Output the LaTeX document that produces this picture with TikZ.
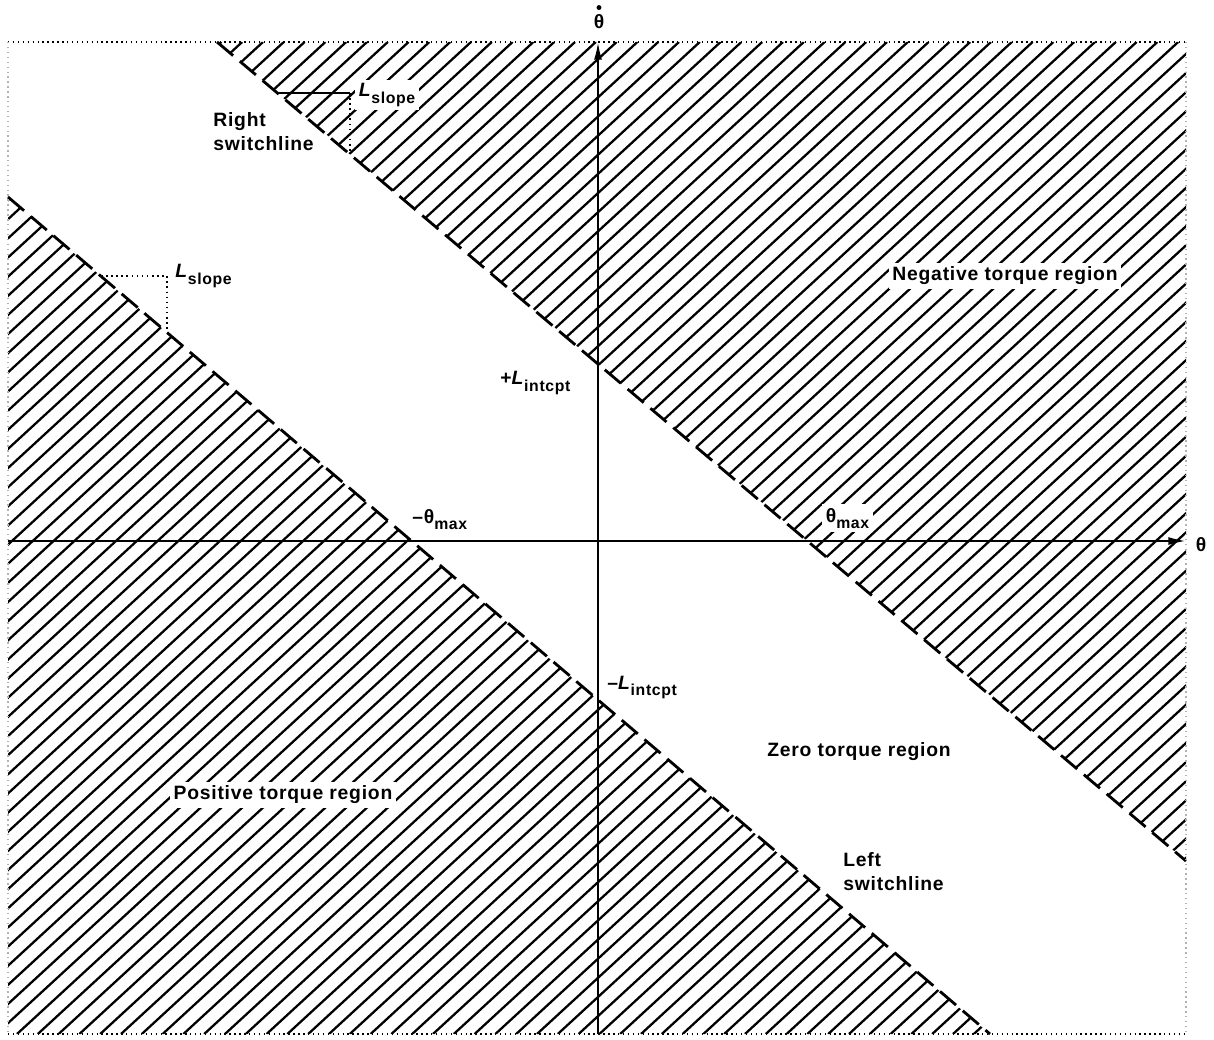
\documentclass[tikz,border=0pt]{standalone}
\usepackage{fontspec}
\setmainfont{Liberation Sans}[LetterSpace=4]
\usetikzlibrary{arrows.meta,calc}
\newcommand\lowsub[1]{\raisebox{-3.6pt}{\fontsize{9}{10}\selectfont #1}}

\begin{document}
\begin{tikzpicture}[x=0.02cm,y=-0.02cm,
    hatch/.style={line width=1.3pt},
    switchline/.style={line width=1.6pt, dash pattern=on 12pt off 5pt},
    axisline/.style={line width=1.2pt, -{Latex[length=10pt,width=4.5pt]}},
    frameline/.style={dotted, line width=0.8pt},
    lbl/.style={font=\fontsize{11}{13.5}\selectfont\bfseries, inner sep=0pt},
    onhatch/.style={fill=white, inner sep=2pt}]
    \useasboundingbox (0,0) rectangle (1214,1040);

    % Frame and switchline ends
    \coordinate (fTL) at (8,42);
    \coordinate (fTR) at (1186,42);
    \coordinate (fBL) at (8,1034);
    \coordinate (fBR) at (1186,1034);
    \coordinate (rsTop) at (217,42);
    \coordinate (rsEnd) at (1186,861);
    \coordinate (lsTop) at (8,197);
    \coordinate (lsEnd) at (990,1034);

    % Hatched regions
    \begin{scope}
        \clip (rsTop) -- (fTR) -- (rsEnd) -- cycle;
        \foreach \k in {-52,...,56}
            \draw[hatch] ({17+20.8*\k},1034) -- ++(1078,-992);
    \end{scope}
    \begin{scope}
        \clip (lsTop) -- (lsEnd) -- (fBL) -- cycle;
        \foreach \k in {-52,...,56}
            \draw[hatch] ({17+20.8*\k},1034) -- ++(1078,-992);
    \end{scope}

    % Switchlines
    \draw[switchline] (rsTop) -- (rsEnd);
    \draw[switchline] (lsTop) -- (lsEnd);

    % Frame
    \draw[frameline] (fTL) -- (fTR);
    \draw[frameline] (fBL) -- (fBR);
    \draw[frameline, gray!60] (fTL) -- (fBL);
    \draw[frameline, gray!60] (fTR) -- (fBR);

    % Axis
    \draw[axisline] (598,1034) coordinate (ybot) -- (598,42) coordinate (ytop);
    \draw[axisline] (8,541) coordinate (xleft) -- (1186,541) coordinate (xright);
    \node[lbl] (thetadot) at (599,22) {θ};
    \fill ($(thetadot.north)+(0,-7)$) circle (1.4pt);
    \node[lbl] (theta) at (1201,545) {θ};

    % Slope triangles
    \coordinate (slA) at (277,93);
    \coordinate (slB) at (350,93);
    \coordinate (slC) at (350,154);
    \draw[line width=0.9pt] (slA) -- (slB);
    \draw[line width=0.9pt, dotted] (slB) -- (slC);
    \coordinate (slD) at (101,276);
    \coordinate (slE) at (167,276);
    \coordinate (slF) at (167,332);
    \draw[line width=0.9pt, dotted] (slD) -- (slE) -- (slF);
    \node[lbl, onhatch, anchor=base west] (slopeup) at (355,97) {\textit{L}\lowsub{slope}};
    \node[lbl, anchor=base west] (slopelow) at (175,278) {\textit{L}\lowsub{slope}};

    % Labels
    \node[lbl, anchor=north west, align=left] (rightsw) at (213,112) {Right\\switchline};
    \node[lbl, anchor=north west, align=left] (leftsw) at (843,852) {Left\\switchline};
    \node[lbl, onhatch] (negreg) at (1005,276) {Negative torque region};
    \node[lbl] (zeroreg) at (859,752) {Zero torque region};
    \node[lbl, onhatch] (posreg) at (283,795) {Positive torque region};
    \node[lbl, anchor=base west] (lplus) at (500,385) {+\textit{L}\lowsub{intcpt}};
    \node[lbl, anchor=base west] (lminus) at (607,689) {–\textit{L}\lowsub{intcpt}};
    \node[lbl, anchor=base west] (tminus) at (412,523) {–θ\lowsub{max}};
    \node[lbl, onhatch, anchor=base west] (tplus) at (822,522) {θ\lowsub{max}};
\end{tikzpicture}
\end{document}
